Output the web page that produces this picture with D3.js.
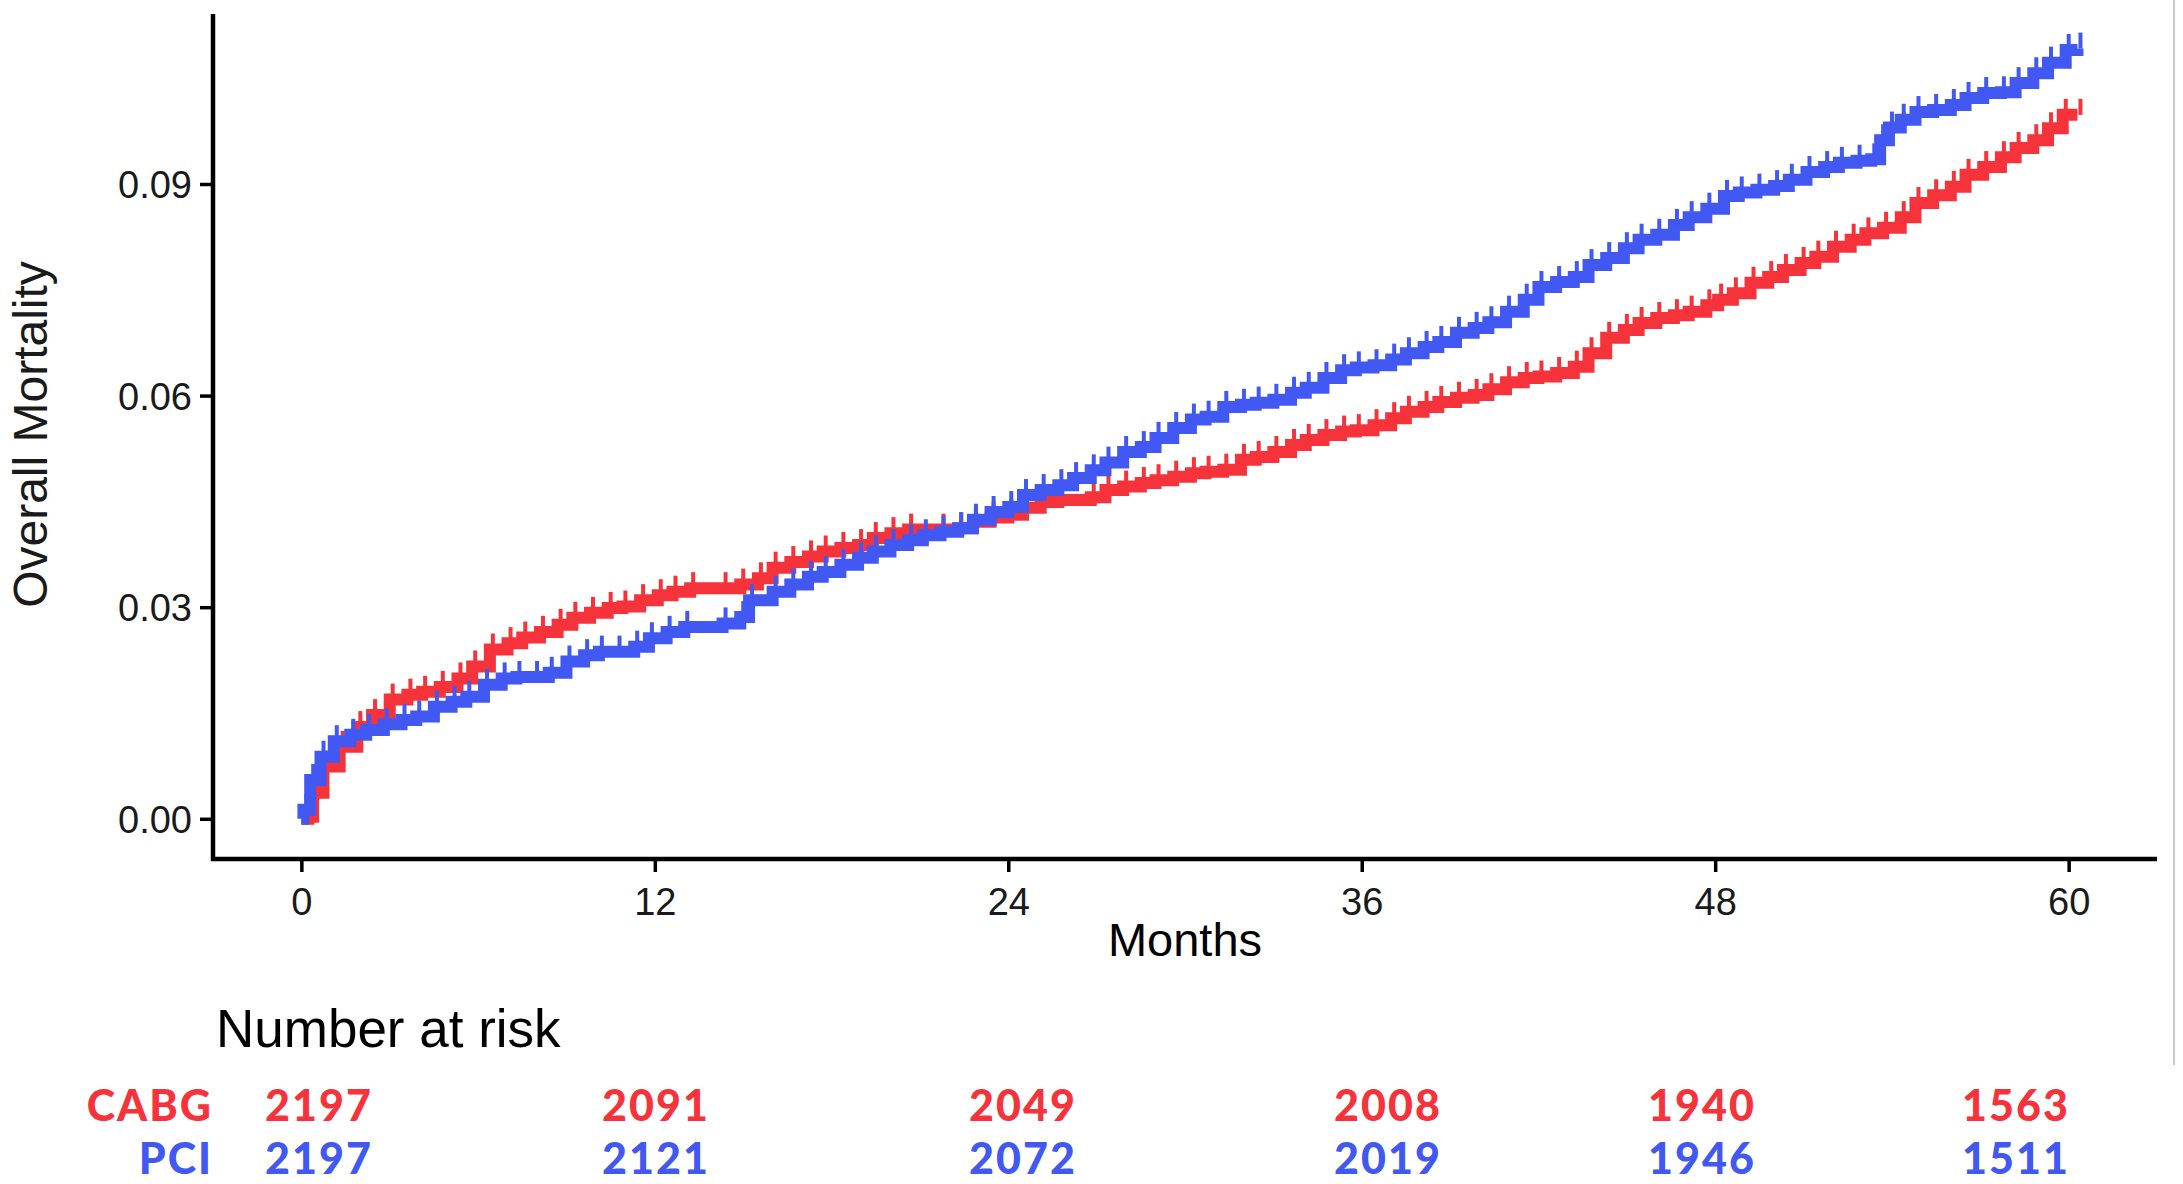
<!DOCTYPE html>
<html>
<head>
<meta charset="utf-8">
<script src="https://cdn.jsdelivr.net/npm/d3@7"></script>
<style>
  html, body { margin: 0; padding: 0; background: #fff; }
  svg { display: block; }
</style>
</head>
<body>
<svg id="chart" width="2183" height="1184"></svg>
<script>
// ---------------- data ----------------
const xTicks = [0, 12, 24, 36, 48, 60];
const yTicks = [0.00, 0.03, 0.06, 0.09];

const cabgMonths = [0,0.24,0.4,0.75,1.3,1.9,2.4,3.0,3.6,4.1,4.7,5.3,5.8,6.4,7.0,7.5,8.1,8.7,9.2,9.8,10.4,10.9,11.5,12.1,12.6,13.2,14.3,14.9,15.5,16.0,16.6,17.2,17.7,18.3,18.9,19.4,20.0,20.6,21.7,22.3,22.8,23.4,24.0,24.5,25.1,25.7,26.8,27.3,27.9,28.5,29.0,29.6,30.2,30.7,31.3,31.9,32.4,33.0,33.6,34.1,34.7,35.3,35.8,36.4,37.0,37.5,38.1,38.6,39.2,39.8,40.3,40.9,41.5,42.0,42.6,43.2,43.7,44.3,44.9,45.4,46.0,46.6,47.1,47.7,48.1,48.6,49.2,49.8,50.3,50.9,51.4,52.0,52.6,53.1,53.7,54.3,54.8,55.4,56.0,56.5,57.1,57.7,58.2,58.8,59.3,59.8,60.3];
const cabgMortality = [0,0.0003,0.0037,0.0074,0.0102,0.013,0.0147,0.0169,0.0176,0.018,0.0187,0.0199,0.0216,0.024,0.0249,0.0257,0.0265,0.0275,0.0285,0.0292,0.0299,0.0301,0.031,0.0317,0.0322,0.0327,0.0327,0.0332,0.0341,0.0356,0.0364,0.0372,0.0379,0.0384,0.0388,0.0398,0.0405,0.041,0.041,0.0412,0.0421,0.0427,0.0431,0.0441,0.0449,0.0452,0.0456,0.0466,0.0471,0.0476,0.048,0.0485,0.049,0.0492,0.0495,0.0509,0.0513,0.052,0.053,0.0537,0.0544,0.0549,0.0551,0.0558,0.0568,0.0577,0.0584,0.0591,0.0597,0.0601,0.0609,0.0619,0.0625,0.0627,0.0632,0.0641,0.066,0.0682,0.0693,0.0703,0.071,0.0714,0.0719,0.0728,0.0736,0.0745,0.076,0.0768,0.0778,0.0788,0.0797,0.0811,0.0821,0.083,0.0838,0.0853,0.0873,0.0884,0.0896,0.0913,0.0924,0.0938,0.0951,0.0962,0.0979,0.0998,0.0998];

const pciMonths = [0,0.07,0.3,0.65,1.1,1.66,2.2,2.8,3.4,3.9,4.5,5.1,5.6,6.2,6.8,7.3,7.9,8.4,9.0,9.6,10.1,10.7,11.3,11.8,12.4,13.0,14.3,14.9,15.2,16.0,16.6,17.2,17.7,18.3,18.9,19.4,20.0,20.6,21.1,21.7,22.3,22.8,23.4,24.0,24.5,25.1,25.7,26.2,26.8,27.3,27.9,28.5,29.0,29.6,30.2,30.7,31.3,31.9,32.4,33.0,33.6,34.1,34.7,35.3,35.8,36.4,37.0,37.5,38.1,38.6,39.2,39.8,40.3,40.9,41.5,42.0,42.6,43.2,43.7,44.3,44.9,45.4,46.0,46.6,47.1,47.7,48.3,48.8,49.4,50.0,50.5,51.1,51.7,52.2,52.8,53.3,53.6,53.9,54.3,54.8,55.4,56.0,56.5,57.1,57.7,58.2,58.8,59.3,59.9,60.3];
const pciMortality = [0,0.0013,0.0055,0.0088,0.011,0.0119,0.0126,0.0134,0.014,0.0145,0.0159,0.0166,0.0173,0.019,0.0199,0.0201,0.0201,0.0207,0.0223,0.0232,0.0237,0.0237,0.0244,0.0256,0.0265,0.0272,0.0277,0.0286,0.031,0.0322,0.0332,0.0343,0.035,0.036,0.037,0.0379,0.0388,0.0395,0.0402,0.0407,0.0412,0.0424,0.0435,0.0442,0.0459,0.0466,0.0473,0.0483,0.0494,0.0505,0.052,0.0527,0.054,0.0554,0.0566,0.057,0.0584,0.0587,0.059,0.0594,0.0604,0.0611,0.0625,0.0636,0.064,0.0643,0.0651,0.066,0.0669,0.0676,0.0689,0.0696,0.0704,0.0719,0.0736,0.0754,0.0761,0.0768,0.0785,0.0795,0.0809,0.0821,0.0828,0.0842,0.0853,0.0865,0.0883,0.0888,0.0892,0.0897,0.0906,0.0917,0.0924,0.093,0.0933,0.0935,0.0962,0.098,0.0991,0.1002,0.1005,0.1012,0.1022,0.1029,0.103,0.1043,0.1057,0.1072,0.109,0.1092];

const groups = ["CABG", "PCI"];
const cabgAtRisk = [2197, 2091, 2049, 2008, 1940, 1563];
const pciAtRisk  = [2197, 2121, 2072, 2019, 1946, 1511];

// ---------------- layout ----------------
const RED = "#F6333A";
const BLUE = "#4158F3";
const plot = { left: 213, right: 2157, top: 14, bottom: 859 };
const riskColumnX = [319, 656, 1023, 1388, 1702, 2016];
const riskRowY = [1121, 1174];
const riskFont = 43;

const svg = d3.select("#chart");

const x = d3.scaleLinear().domain([-3, 63]).range([plot.left, plot.right]);
const y = d3.scaleLinear().domain([-0.0057, 0.1141]).range([plot.bottom, plot.top]);

// axes
const yAxis = d3.axisLeft(y).tickValues(yTicks).tickFormat(d3.format(".2f")).tickSize(13).tickPadding(8);
const xAxis = d3.axisBottom(x).tickValues(xTicks).tickFormat(d3.format("d")).tickSize(13).tickPadding(8);

const gy = svg.append("g").attr("transform", `translate(${plot.left},0)`).call(yAxis);
const gx = svg.append("g").attr("transform", `translate(0,${plot.bottom})`).call(xAxis);

[gy, gx].forEach(g => {
  g.select(".domain").remove();
  g.selectAll(".tick line").attr("stroke", "#000").attr("stroke-width", 3.5);
  g.selectAll(".tick text")
    .attr("fill", "#1a1a1a")
    .style("font-family", "'Liberation Sans', Arial, sans-serif")
    .style("font-size", "38px");
});
gx.selectAll(".tick text").attr("dy", "0.92em");
gy.selectAll(".tick text").attr("dy", "0.36em");

// axis lines
svg.append("line").attr("x1", plot.left).attr("x2", plot.left)
  .attr("y1", plot.top).attr("y2", plot.bottom + 2)
  .attr("stroke", "#000").attr("stroke-width", 4.5);
svg.append("line").attr("x1", plot.left - 2).attr("x2", plot.right)
  .attr("y1", plot.bottom).attr("y2", plot.bottom)
  .attr("stroke", "#000").attr("stroke-width", 4.5);

// axis titles
svg.append("text")
  .attr("x", x(30)).attr("y", 956)
  .attr("text-anchor", "middle")
  .style("font-family", "'Liberation Sans', Arial, sans-serif")
  .style("font-size", "47px").attr("fill", "#000")
  .text("Months");

svg.append("text")
  .attr("transform", `translate(47,${(plot.top + plot.bottom) / 2 - 2}) rotate(-90)`)
  .attr("text-anchor", "middle")
  .style("font-family", "'Liberation Sans', Arial, sans-serif")
  .style("font-size", "48px").attr("fill", "#1a1a1a")
  .text("Overall Mortality");

// curves
const series = [
  { name: "CABG", color: RED, months: cabgMonths, values: cabgMortality },
  { name: "PCI", color: BLUE, months: pciMonths, values: pciMortality }
];

const line = d3.line()
  .x(d => x(d[0]))
  .y(d => y(d[1]))
  .curve(d3.curveStepAfter);

series.forEach(s => {
  const pts = s.months.map((m, i) => [m, s.values[i]]);
  svg.append("path")
    .datum(pts)
    .attr("fill", "none")
    .attr("stroke", s.color)
    .attr("stroke-width", 12)
    .attr("stroke-linejoin", "miter")
    .attr("d", line);
  // censor marks
  svg.append("g").selectAll("line")
    .data(pts.slice(1))
    .join("line")
    .attr("x1", d => x(d[0]) + 3).attr("x2", d => x(d[0]) + 3)
    .attr("y1", d => y(d[1]))
    .attr("y2", d => y(d[1]) - 16)
    .attr("stroke", s.color)
    .attr("stroke-width", 4);
});

// right edge frame line
svg.append("line").attr("x1", 2174).attr("x2", 2174).attr("y1", 0).attr("y2", 1065)
  .attr("stroke", "#c8c8c8").attr("stroke-width", 2);

// number at risk table
svg.append("text")
  .attr("x", 216).attr("y", 1047)
  .style("font-family", "'Liberation Sans', Arial, sans-serif")
  .style("font-size", "53px").attr("fill", "#000")
  .text("Number at risk");

const riskRows = [
  { name: groups[0], color: RED, values: cabgAtRisk },
  { name: groups[1], color: BLUE, values: pciAtRisk }
];

riskRows.forEach((r, ri) => {
  svg.append("text")
    .attr("x", 213).attr("y", riskRowY[ri])
    .attr("text-anchor", "end")
    .style("font-family", "Lato, 'Noto Sans', sans-serif")
    .style("font-weight", "900")
    .style("font-size", riskFont + "px")
    .style("letter-spacing", "2px")
    .attr("fill", r.color)
    .text(r.name);
  svg.append("g").selectAll("text")
    .data(r.values)
    .join("text")
    .attr("x", (d, i) => riskColumnX[i])
    .attr("y", riskRowY[ri])
    .attr("text-anchor", "middle")
    .style("font-family", "Lato, 'Noto Sans', sans-serif")
    .style("font-weight", "900")
    .style("font-size", riskFont + "px")
    .style("letter-spacing", "2px")
    .attr("fill", r.color)
    .text(d => d);
});
</script>
</body>
</html>
